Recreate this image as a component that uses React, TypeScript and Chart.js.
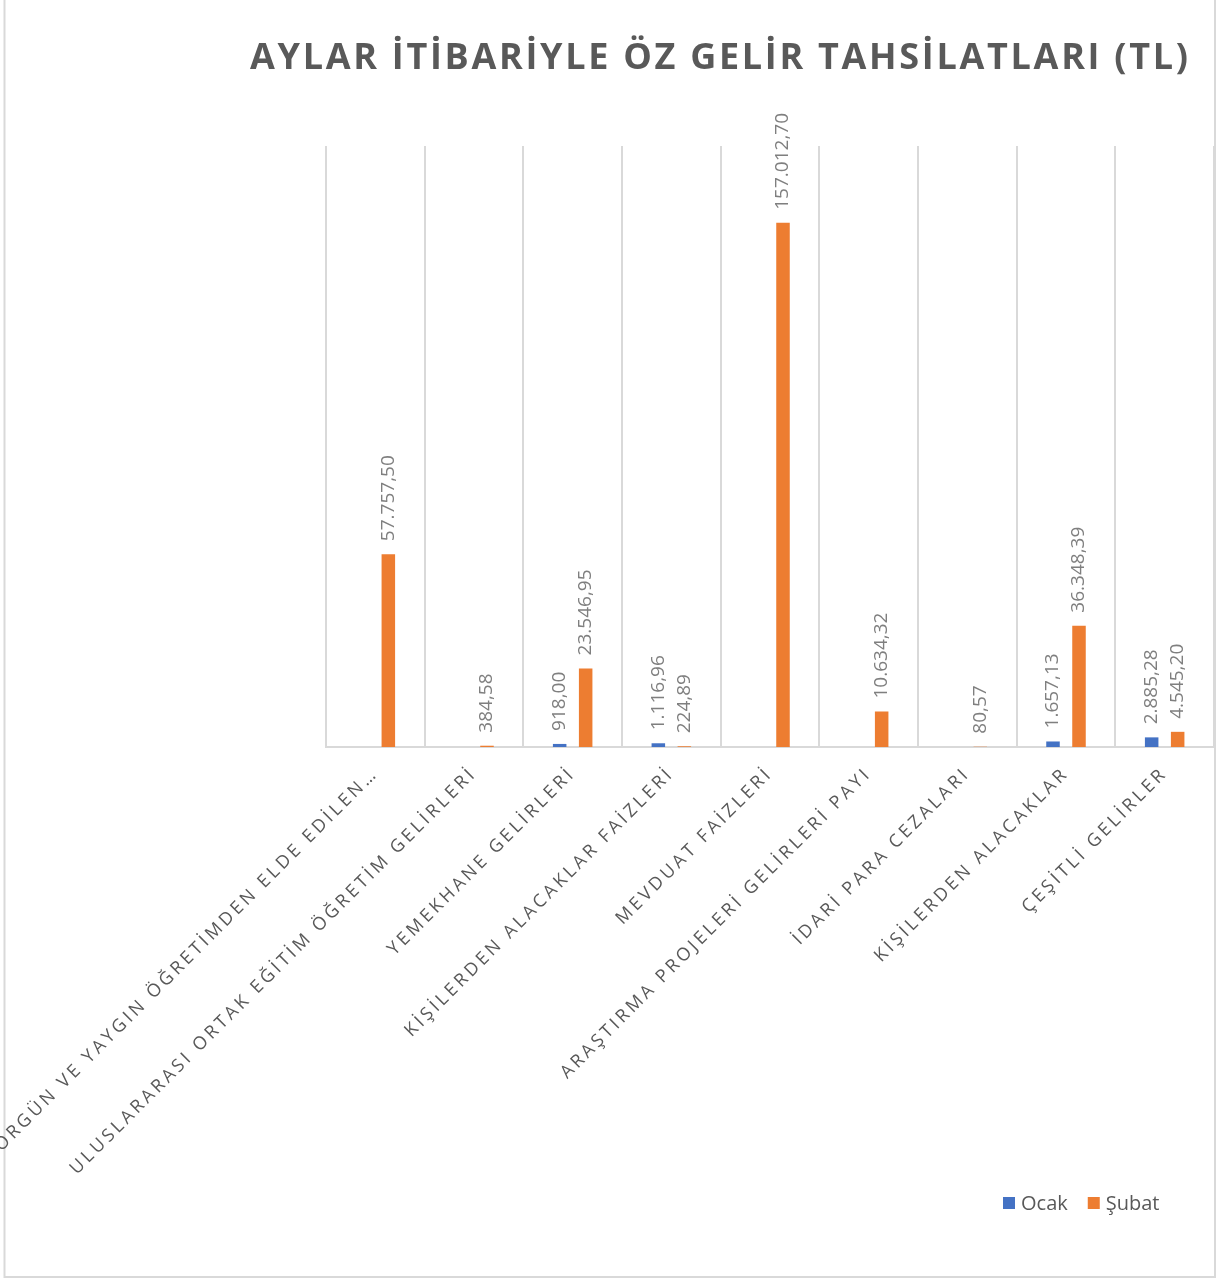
import React, { useEffect, useRef } from "react";
import { Chart, registerables } from "chart.js";

Chart.register(...registerables);

const categories = [
  "ÖRGÜN VE YAYGIN ÖĞRETİMDEN ELDE EDİLEN…",
  "ULUSLARARASI ORTAK EĞİTİM ÖĞRETİM GELİRLERİ",
  "YEMEKHANE GELİRLERİ",
  "KİŞİLERDEN ALACAKLAR FAİZLERİ",
  "MEVDUAT FAİZLERİ",
  "ARAŞTIRMA PROJELERİ GELİRLERİ PAYI",
  "İDARİ PARA CEZALARI",
  "KİŞİLERDEN ALACAKLAR",
  "ÇEŞİTLİ GELİRLER",
];
const ocak: (number | null)[] = [null, null, 918.0, 1116.96, null, null, null, 1657.13, 2885.28];
const subat: (number | null)[] = [57757.5, 384.58, 23546.95, 224.89, 157012.7, 10634.32, 80.57, 36348.39, 4545.2];
const seriesNames = ["Ocak", "Şubat"];
const seriesColors = ["#4472C4", "#ED7D31"];
const yMax = 180000;
const chartTitle = "AYLAR İTİBARİYLE ÖZ GELİR TAHSİLATLARI (TL)";

const W = 1219;
const H = 1280;
const FONT = "'Open Sans', 'Noto Sans', sans-serif";

function fmt(v: number): string {
  const [i, d] = v.toFixed(2).split(".");
  return i.replace(/\B(?=(\d{3})+(?!\d))/g, ".") + "," + d;
}

const decorPlugin = {
  id: "decor",
  beforeDraw(chart: any) {
    const ctx = chart.ctx as CanvasRenderingContext2D;
    ctx.save();
    ctx.fillStyle = "#ffffff";
    ctx.fillRect(0, 0, W, H);
    ctx.strokeStyle = "#d9d9d9";
    ctx.lineWidth = 2;
    ctx.strokeRect(4.5, -10, 1210.5, 1287);
    ctx.restore();
    (ctx as any).letterSpacing = "3.3px";
  },
  beforeDatasetsDraw(chart: any) {
    (chart.ctx as any).letterSpacing = "0px";
  },
  afterDatasetsDraw(chart: any) {
    const ctx = chart.ctx as CanvasRenderingContext2D;
    // data labels
    ctx.save();
    (ctx as any).letterSpacing = "0px";
    ctx.fillStyle = "#7f7f7f";
    ctx.font = `19px ${FONT}`;
    ctx.textAlign = "left";
    ctx.textBaseline = "middle";
    chart.data.datasets.forEach((ds: any, di: number) => {
      const meta = chart.getDatasetMeta(di);
      ds.data.forEach((v: number | null, j: number) => {
        if (v === null || v === undefined) return;
        const el = meta.data[j];
        if (!el) return;
        ctx.save();
        ctx.translate(el.x, el.y - 13);
        ctx.rotate(-Math.PI / 2);
        ctx.fillText(fmt(v), 0, 0);
        ctx.restore();
      });
    });
    ctx.restore();

    // title
    ctx.save();
    (ctx as any).letterSpacing = "2.7px";
    ctx.fillStyle = "#595959";
    ctx.font = `bold 36px ${FONT}`;
    ctx.textAlign = "left";
    ctx.textBaseline = "alphabetic";
    ctx.fillText(chartTitle, 250, 69);
    ctx.restore();

    // legend
    ctx.save();
    (ctx as any).letterSpacing = "0px";
    ctx.font = `20px ${FONT}`;
    ctx.textBaseline = "middle";
    ctx.textAlign = "left";
    let x = 1003;
    const yc = 1203;
    chart.data.datasets.forEach((ds: any) => {
      ctx.fillStyle = ds.backgroundColor;
      ctx.fillRect(x, yc - 6, 12, 12);
      ctx.fillStyle = "#595959";
      ctx.fillText(ds.label, x + 18, yc + 1);
      x += 18 + ctx.measureText(ds.label).width + 20;
    });
    ctx.restore();
  },
};

export default function App() {
  const ref = useRef<HTMLCanvasElement | null>(null);
  useEffect(() => {
    if (!ref.current) return;
    const chart = new Chart(ref.current, {
      type: "bar",
      data: {
        labels: categories,
        datasets: [
          { label: seriesNames[0], data: ocak, backgroundColor: seriesColors[0], borderWidth: 0 },
          { label: seriesNames[1], data: subat, backgroundColor: seriesColors[1], borderWidth: 0 },
        ],
      },
      options: {
        animation: false,
        responsive: false,
        devicePixelRatio: 1,
        layout: { padding: { top: 146, left: 326, right: 5, bottom: 0 } },
        datasets: { bar: { categoryPercentage: 0.527, barPercentage: 0.52 } } as any,
        plugins: {
          legend: { display: false },
          title: { display: false },
          tooltip: { enabled: false },
        },
        scales: {
          x: {
            grid: { color: "#d9d9d9", lineWidth: 2, drawTicks: false, offset: true },
            border: { color: "#d9d9d9", width: 2 },
            ticks: {
              color: "#595959",
              font: { family: FONT, size: 18 },
              maxRotation: 45,
              minRotation: 45,
              autoSkip: false,
              padding: 16,
            },
            afterFit: (s: any) => {
              s.height = H - 747;
              s.paddingLeft = 0;
              s.paddingRight = 0;
            },
          },
          y: { display: false, min: 0, max: yMax },
        },
      },
      plugins: [decorPlugin],
    });
    return () => chart.destroy();
  }, []);
  return (
    <div style={{ position: "absolute", left: 0, top: 0, width: W, height: H, overflow: "hidden" }}>
      <canvas ref={ref} width={W} height={H} style={{ display: "block", width: W, height: H }} />
    </div>
  );
}
